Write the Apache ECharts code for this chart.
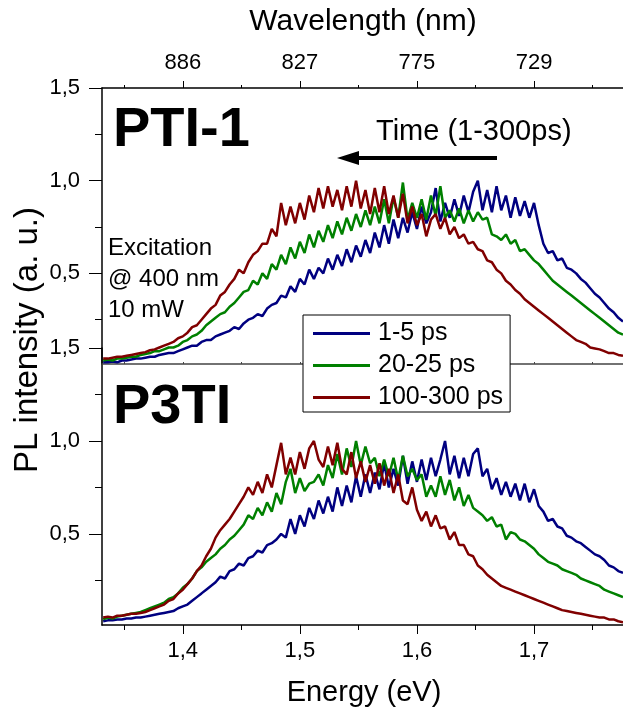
<!DOCTYPE html>
<html>
<head>
<meta charset="utf-8">
<script src="https://cdn.jsdelivr.net/npm/echarts@6/dist/echarts.min.js"></script>
<style>
  html, body { margin: 0; padding: 0; background: #fff; }
  #chart { width: 623px; height: 711px; }
</style>
</head>
<body>
<div id="chart"></div>
<script>
// photon energy (eV), shared by all spectra
var energy = [1.332,1.336,1.340,1.344,1.348,1.352,1.356,1.360,1.364,1.368,
  1.372,1.376,1.380,1.384,1.388,1.392,1.396,1.400,1.404,1.408,
  1.412,1.416,1.420,1.424,1.428,1.432,1.436,1.440,1.444,1.448,
  1.452,1.456,1.460,1.464,1.468,1.472,1.476,1.480,1.484,1.488,
  1.492,1.496,1.500,1.504,1.508,1.512,1.516,1.520,1.524,1.528,
  1.532,1.536,1.540,1.544,1.548,1.552,1.556,1.560,1.564,1.568,
  1.572,1.576,1.580,1.584,1.588,1.592,1.596,1.600,1.604,1.608,
  1.612,1.616,1.620,1.624,1.628,1.632,1.636,1.640,1.644,1.648,
  1.652,1.656,1.660,1.664,1.668,1.672,1.676,1.680,1.684,1.688,
  1.692,1.696,1.700,1.704,1.708,1.712,1.716,1.720,1.724,1.728,
  1.732,1.736,1.740,1.744,1.748,1.752,1.756,1.760,1.764,1.768,
  1.772,1.776];

// PTI-1 (top panel)
var pti1Fast = [0.02,0.02,0.025,0.02,0.03,0.03,0.035,0.04,0.04,0.045,
  0.05,0.05,0.06,0.065,0.07,0.07,0.08,0.09,0.10,0.11,
  0.11,0.13,0.14,0.14,0.16,0.17,0.18,0.19,0.21,0.20,
  0.23,0.25,0.26,0.28,0.27,0.31,0.33,0.34,0.38,0.37,
  0.43,0.40,0.47,0.44,0.52,0.47,0.53,0.50,0.58,0.52,
  0.60,0.54,0.63,0.56,0.65,0.59,0.68,0.61,0.72,0.64,
  0.76,0.66,0.79,0.69,0.80,0.72,0.83,0.74,0.86,0.77,
  0.83,0.96,0.78,0.88,0.80,0.90,0.81,0.92,0.83,0.94,
  1.00,0.84,0.95,0.83,0.97,0.84,0.92,0.80,0.91,0.81,
  0.89,0.80,0.88,0.76,0.66,0.61,0.62,0.57,0.58,0.53,
  0.52,0.50,0.47,0.45,0.42,0.39,0.37,0.34,0.31,0.29,
  0.26,0.24];
var pti1Mid = [0.03,0.035,0.03,0.04,0.04,0.045,0.05,0.05,0.06,0.065,
  0.07,0.08,0.08,0.09,0.10,0.10,0.11,0.13,0.14,0.16,
  0.17,0.19,0.22,0.24,0.26,0.28,0.29,0.32,0.34,0.37,
  0.40,0.41,0.46,0.44,0.50,0.47,0.55,0.52,0.60,0.55,
  0.64,0.58,0.67,0.61,0.71,0.64,0.73,0.67,0.76,0.69,
  0.78,0.71,0.80,0.73,0.82,0.75,0.84,0.76,0.86,0.77,
  0.90,0.77,0.91,0.80,0.99,0.79,0.88,0.80,0.90,0.79,
  0.92,0.81,0.97,0.80,0.84,0.78,0.85,0.77,0.84,0.78,
  0.83,0.79,0.80,0.71,0.70,0.68,0.71,0.66,0.68,0.62,
  0.63,0.60,0.57,0.55,0.52,0.49,0.46,0.44,0.42,0.40,
  0.38,0.36,0.34,0.32,0.30,0.28,0.26,0.24,0.22,0.20,
  0.18,0.17];
var pti1Slow = [0.04,0.04,0.045,0.05,0.05,0.055,0.06,0.065,0.07,0.075,
  0.085,0.09,0.10,0.11,0.12,0.13,0.15,0.16,0.18,0.21,
  0.22,0.25,0.28,0.31,0.33,0.38,0.40,0.44,0.47,0.52,
  0.50,0.56,0.60,0.62,0.66,0.66,0.74,0.70,0.88,0.76,
  0.86,0.77,0.88,0.79,0.92,0.83,0.96,0.85,0.97,0.86,
  0.95,0.84,0.97,0.86,1.00,0.85,0.95,0.82,0.96,0.83,
  0.97,0.82,0.92,0.80,0.93,0.77,0.86,0.76,0.82,0.70,
  0.79,0.82,0.74,0.80,0.71,0.75,0.69,0.71,0.66,0.67,
  0.63,0.62,0.57,0.56,0.52,0.50,0.46,0.44,0.41,0.39,
  0.36,0.34,0.32,0.30,0.28,0.26,0.24,0.22,0.20,0.18,
  0.16,0.14,0.13,0.12,0.10,0.095,0.09,0.08,0.07,0.07,
  0.06,0.055];

// P3TI (bottom panel)
var p3tiFast = [0.03,0.035,0.035,0.04,0.04,0.045,0.045,0.05,0.05,0.055,
  0.06,0.065,0.07,0.075,0.08,0.085,0.10,0.11,0.12,0.14,
  0.16,0.18,0.20,0.22,0.24,0.27,0.26,0.30,0.31,0.34,
  0.33,0.37,0.38,0.41,0.40,0.44,0.45,0.47,0.50,0.48,
  0.58,0.50,0.60,0.54,0.64,0.58,0.68,0.61,0.70,0.62,
  0.75,0.65,0.76,0.67,0.81,0.70,0.82,0.72,0.83,0.74,
  0.88,0.75,0.85,0.76,0.92,0.77,0.89,0.78,0.90,0.79,
  0.91,0.81,0.90,1.00,0.82,0.92,0.80,0.91,0.81,0.93,
  0.96,0.81,0.85,0.74,0.80,0.71,0.78,0.70,0.77,0.68,
  0.77,0.67,0.74,0.65,0.62,0.57,0.58,0.54,0.53,0.49,
  0.48,0.46,0.45,0.43,0.41,0.39,0.38,0.36,0.33,0.32,
  0.30,0.29];
var p3tiMid = [0.04,0.05,0.045,0.055,0.06,0.065,0.07,0.075,0.08,0.09,
  0.10,0.11,0.12,0.13,0.15,0.16,0.18,0.21,0.23,0.26,
  0.30,0.32,0.35,0.37,0.39,0.42,0.44,0.47,0.49,0.52,
  0.55,0.60,0.58,0.64,0.60,0.67,0.62,0.72,0.66,0.78,
  0.85,0.72,0.80,0.73,0.77,0.78,0.82,0.76,0.87,0.80,
  0.93,0.82,0.96,0.86,1.00,0.87,0.97,0.88,0.91,0.81,
  0.90,0.81,0.91,0.79,0.92,0.81,0.85,0.79,0.82,0.70,
  0.76,0.70,0.81,0.71,0.79,0.68,0.75,0.65,0.71,0.64,
  0.62,0.60,0.57,0.59,0.54,0.55,0.47,0.51,0.50,0.47,
  0.46,0.44,0.42,0.39,0.37,0.35,0.34,0.33,0.31,0.30,
  0.29,0.28,0.26,0.25,0.24,0.23,0.22,0.20,0.19,0.18,
  0.17,0.16];
var p3tiSlow = [0.05,0.055,0.05,0.06,0.06,0.065,0.07,0.07,0.075,0.08,
  0.09,0.10,0.11,0.12,0.14,0.15,0.18,0.20,0.23,0.26,
  0.30,0.33,0.38,0.42,0.48,0.52,0.55,0.58,0.62,0.66,
  0.70,0.75,0.71,0.78,0.72,0.82,0.75,0.87,0.99,0.82,
  0.91,0.82,0.94,0.85,0.96,1.00,0.90,0.86,0.97,0.87,
  0.99,0.85,0.82,0.94,0.80,0.89,0.78,0.87,0.77,0.88,
  0.76,0.85,0.72,0.82,0.68,0.66,0.75,0.63,0.57,0.62,
  0.54,0.60,0.53,0.54,0.47,0.51,0.44,0.44,0.39,0.38,
  0.33,0.31,0.28,0.26,0.24,0.22,0.21,0.20,0.19,0.18,
  0.17,0.16,0.15,0.14,0.13,0.12,0.11,0.10,0.09,0.085,
  0.08,0.075,0.07,0.065,0.06,0.055,0.05,0.05,0.04,0.04,
  0.03,0.025];

var seriesNames = ['1-5 ps', '20-25 ps', '100-300 ps'];
var colors = ['#000080', '#008000', '#800000'];
var energyTicks = [1.4, 1.5, 1.6, 1.7];
var energyMinor = [1.35, 1.45, 1.55, 1.65, 1.75];
var yTicks = [0.5, 1.0, 1.5];
var yMinor = [0.25, 0.75, 1.25];

var FONT = '"Liberation Sans", Arial, sans-serif';
var xMin = 1.331, xMax = 1.776;

function comma(v) { return v.toFixed(1).replace('.', ','); }
function pairs(ys) { return energy.map(function (e, i) { return [e, ys[i]]; }); }

function xAx(grid, pos, opt) {
  return Object.assign({
    gridIndex: grid, type: 'value', position: pos, min: xMin, max: xMax,
    splitLine: { show: false },
    axisLine: { show: false, onZero: false },
    axisTick: { show: false },
    axisLabel: { show: false }
  }, opt);
}
function yAx(grid, min, opt) {
  return Object.assign({
    gridIndex: grid, type: 'value', position: 'left', min: min, max: 1.5,
    splitLine: { show: false },
    axisLine: { show: false, onZero: false },
    axisTick: { show: false },
    axisLabel: { show: false }
  }, opt);
}

var blackLine = { show: true, onZero: false, lineStyle: { color: '#000', width: 1.5 } };
var tickLbl = { show: true, color: '#000', fontSize: 22, fontFamily: FONT };

var chart = echarts.init(document.getElementById('chart'));

var series = [];
[pti1Fast, pti1Mid, pti1Slow].forEach(function (d, k) {
  series.push({ name: seriesNames[k], type: 'line', xAxisIndex: 0, yAxisIndex: 0,
    data: pairs(d), showSymbol: false, color: colors[k],
    lineStyle: { width: 2.5, color: colors[k] } });
});
[p3tiFast, p3tiMid, p3tiSlow].forEach(function (d, k) {
  series.push({ name: seriesNames[k], type: 'line', xAxisIndex: 3, yAxisIndex: 2,
    data: pairs(d), showSymbol: false, color: colors[k],
    lineStyle: { width: 2.5, color: colors[k] } });
});

var option = {
  animation: false,
  backgroundColor: '#fff',
  grid: [
    { left: 102, top: 88, right: 0, height: 276 },
    { left: 102, top: 348, right: 0, height: 277 }
  ],
  xAxis: [
    // separator between the panels
    xAx(0, 'bottom', {
      axisLine: { show: true, onZero: false, lineStyle: { color: '#444', width: 1.5 } },
      axisTick: { show: true, inside: true, length: 2, customValues: energyMinor.concat(energyTicks),
        lineStyle: { color: '#444' } }
    }),
    // wavelength scale on top
    xAx(0, 'top', {
      axisLine: blackLine,
      axisTick: { show: true, length: 7, customValues: energyTicks, lineStyle: { color: '#000' } },
      axisLabel: Object.assign({}, tickLbl, { customValues: energyTicks, margin: 14,
        formatter: function (v) { return Math.round(1239.84 / v); } })
    }),
    xAx(0, 'top', {
      axisTick: { show: true, length: 3, customValues: energyMinor, lineStyle: { color: '#000' } }
    }),
    // energy scale at the bottom
    xAx(1, 'bottom', {
      axisLine: blackLine,
      axisTick: { show: true, length: 9, customValues: energyTicks, lineStyle: { color: '#000' } },
      axisLabel: Object.assign({}, tickLbl, { customValues: energyTicks, margin: 15, formatter: comma })
    }),
    xAx(1, 'bottom', {
      axisTick: { show: true, length: 5, customValues: energyMinor, lineStyle: { color: '#000' } }
    })
  ],
  yAxis: [
    yAx(0, 0.011, {
      axisLine: blackLine,
      axisTick: { show: true, length: 13, customValues: yTicks, lineStyle: { color: '#000' } },
      axisLabel: Object.assign({}, tickLbl, { customValues: yTicks, margin: 22, formatter: comma })
    }),
    yAx(0, 0.011, {
      axisTick: { show: true, length: 7, customValues: yMinor, lineStyle: { color: '#000' } }
    }),
    yAx(1, 0.01, {
      axisLine: blackLine,
      axisTick: { show: true, length: 13, customValues: yTicks, lineStyle: { color: '#000' } },
      axisLabel: Object.assign({}, tickLbl, { customValues: yTicks, margin: 22, formatter: comma })
    }),
    yAx(1, 0.01, {
      axisTick: { show: true, length: 7, customValues: yMinor, lineStyle: { color: '#000' } }
    })
  ],
  legend: {
    data: seriesNames,
    orient: 'vertical',
    left: 303, top: 315,
    icon: 'rect', itemWidth: 57, itemHeight: 3, itemGap: 7,
    padding: [6, 7, 2, 10],
    borderColor: '#000', borderWidth: 1, backgroundColor: '#fff',
    textStyle: { fontSize: 25, color: '#000', fontFamily: FONT, padding: [0, 0, 0, 3] }
  },
  graphic: [
    { type: 'text', x: 363, y: 22, style: { text: 'Wavelength (nm)', fontSize: 30, fontFamily: FONT,
      fill: '#000', textAlign: 'center', textVerticalAlign: 'middle' } },
    { type: 'text', x: 364, y: 693, style: { text: 'Energy (eV)', fontSize: 29, fontFamily: FONT,
      fill: '#000', textAlign: 'center', textVerticalAlign: 'middle' } },
    { type: 'text', x: 28, y: 340, rotation: Math.PI / 2, style: { text: 'PL intensity (a. u.)',
      fontSize: 33, fontFamily: FONT, fill: '#000', textAlign: 'center', textVerticalAlign: 'middle' } },
    { type: 'text', x: 113, y: 131, style: { text: 'PTI-1', fontSize: 56, fontWeight: 'bold',
      fontFamily: FONT, fill: '#000', textAlign: 'left', textVerticalAlign: 'middle' } },
    { type: 'text', x: 113, y: 408, style: { text: 'P3TI', fontSize: 56, fontWeight: 'bold',
      fontFamily: FONT, fill: '#000', textAlign: 'left', textVerticalAlign: 'middle' } },
    { type: 'text', x: 376, y: 132, style: { text: 'Time (1-300ps)', fontSize: 29, fontFamily: FONT,
      fill: '#000', textAlign: 'left', textVerticalAlign: 'middle' } },
    { type: 'line', shape: { x1: 497, y1: 158, x2: 352, y2: 158 }, style: { stroke: '#000', lineWidth: 4 } },
    { type: 'polygon', shape: { points: [[337, 158], [359, 151], [359, 165]] }, style: { fill: '#000' } },
    { type: 'text', x: 108, y: 248, style: { text: 'Excitation', fontSize: 24, fontFamily: FONT,
      fill: '#000', textAlign: 'left', textVerticalAlign: 'middle' } },
    { type: 'text', x: 108, y: 279, style: { text: '@ 400 nm', fontSize: 24, fontFamily: FONT,
      fill: '#000', textAlign: 'left', textVerticalAlign: 'middle' } },
    { type: 'text', x: 108, y: 310, style: { text: '10 mW', fontSize: 24, fontFamily: FONT,
      fill: '#000', textAlign: 'left', textVerticalAlign: 'middle' } }
  ],
  series: series
};

chart.setOption(option);
</script>
</body>
</html>
